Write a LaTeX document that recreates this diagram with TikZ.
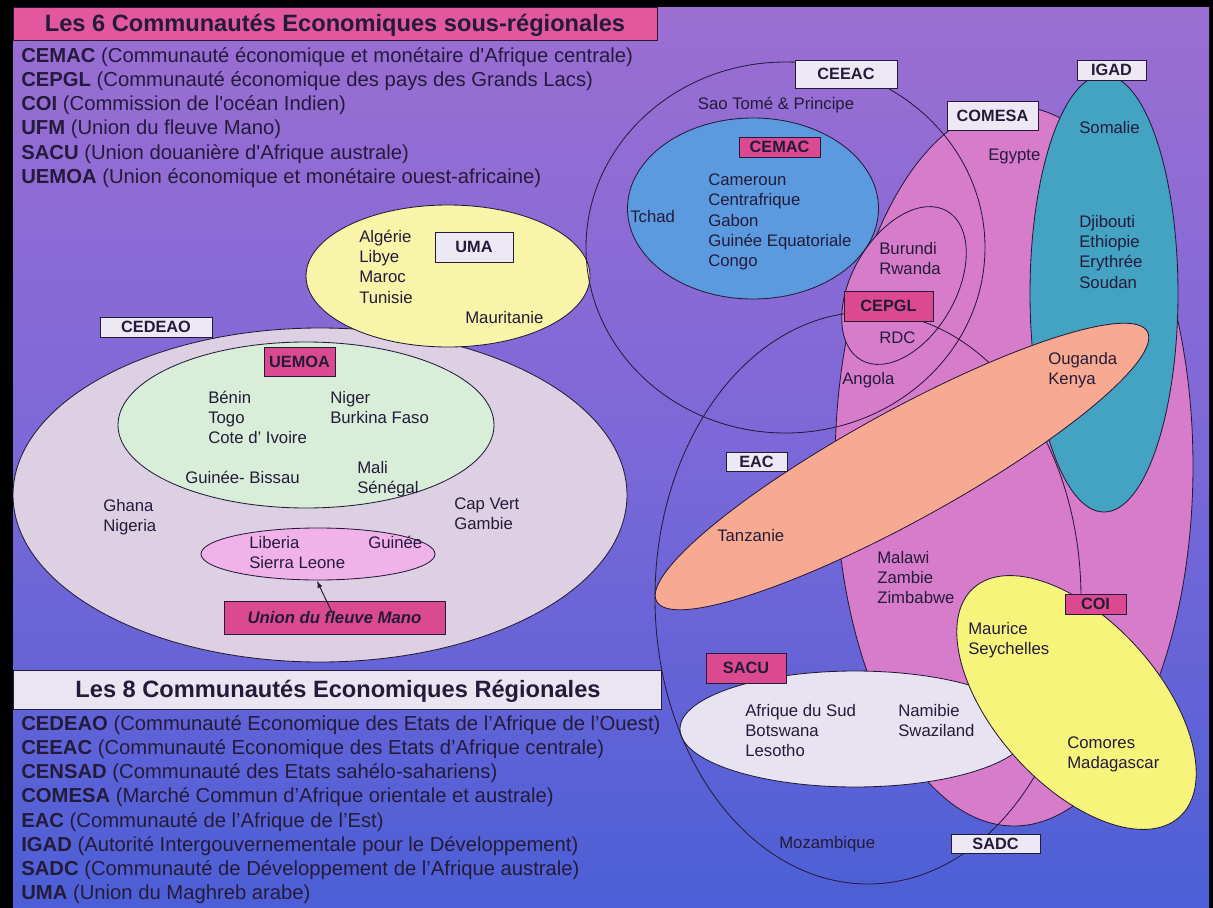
\documentclass[tikz,border=0pt]{standalone}
\usepackage{fontspec}
\setmainfont{Liberation Sans}
\usetikzlibrary{arrows}
\definecolor{ink}{HTML}{241B3A}
\definecolor{bgtop}{HTML}{9C6ED2}
\definecolor{bgmid}{HTML}{7B68D8}
\definecolor{bgbot}{HTML}{4C5FD6}
\definecolor{barpink}{HTML}{E2579E}
\definecolor{barwhite}{HTML}{EAE6F1}
\definecolor{tagpink}{HTML}{DB4A90}
\definecolor{tagwhite}{HTML}{ECE8F4}
\definecolor{cedeaofill}{HTML}{DCD0E2}
\definecolor{uemoafill}{HTML}{D8EED8}
\definecolor{ufmfill}{HTML}{F1B2EA}
\definecolor{umafill}{HTML}{F8F4A8}
\definecolor{cemacfill}{HTML}{5C9AE0}
\definecolor{comesafill}{HTML}{D77CCB}
\definecolor{igadfill}{HTML}{44A2C2}
\definecolor{eacfill}{HTML}{F8A991}
\definecolor{sacufill}{HTML}{E7E3F1}
\definecolor{coifill}{HTML}{F6F47A}
\tikzstyle{groupline} = [draw=ink, line width=0.6pt]
\tikzstyle{cname} = [anchor=base west, align=left, inner sep=0pt, text=ink, font=\fontsize{11.9}{14.4}\selectfont]
\tikzstyle{tagbox} = [draw=ink, line width=0.6pt, fill=tagwhite, text=ink, inner sep=0pt, font=\bfseries\fontsize{11.6}{13}\selectfont]
\tikzstyle{pinkbox} = [tagbox, fill=tagpink]
\tikzstyle{listtext} = [anchor=base west, align=left, inner sep=0pt, text=ink, font=\fontsize{14.4}{17.2}\selectfont]
\tikzstyle{headtext} = [anchor=base, inner sep=0pt, text=ink, font=\bfseries\fontsize{16.8}{19}\selectfont]
\tikzstyle{connector} = [draw=ink, line width=0.7pt, -latex]

\begin{document}
\begin{tikzpicture}[x=0.025cm, y=-0.025cm]
    \useasboundingbox (0,0) rectangle (1213,908);
    % frame and background
    \fill[black] (0,0) rectangle (1213,908);
    \shade[top color=bgtop, bottom color=bgbot, middle color=bgmid] (13,7) rectangle (1209,908);

    % the two headings and their lists (multi-line nodes sit on their last line)
    \draw[groupline, fill=barpink] (13,7) rectangle (657,40);
    \node[headtext] (head6) at (335,31) {Les 6 Communautés Economiques sous-régionales};
    \node[listtext] (list6) at (21,183.2) {\textbf{CEMAC} (Communauté économique et monétaire d\textquotesingle Afrique centrale)\\
        \textbf{CEPGL} (Communauté économique des pays des Grands Lacs)\\
        \textbf{COI} (Commission de l\textquotesingle océan Indien)\\
        \textbf{UFM} (Union du fleuve Mano)\\
        \textbf{SACU} (Union douanière d\textquotesingle Afrique australe)\\
        \textbf{UEMOA} (Union économique et monétaire ouest-africaine)};
    \draw[groupline, fill=barwhite] (13,670) rectangle (661,709);
    \node[headtext] (head8) at (338,697) {Les 8 Communautés Economiques Régionales};
    \node[listtext] (list8) at (21,899.6) {\textbf{CEDEAO} (Communauté Economique des Etats de l’Afrique de l’Ouest)\\
        \textbf{CEEAC} (Communauté Economique des Etats d’Afrique centrale)\\
        \textbf{CENSAD} (Communauté des Etats sahélo-sahariens)\\
        \textbf{COMESA} (Marché Commun d’Afrique orientale et australe)\\
        \textbf{EAC} (Communauté de l’Afrique de l’Est)\\
        \textbf{IGAD} (Autorité Intergouvernementale pour le Développement)\\
        \textbf{SADC} (Communauté de Développement de l’Afrique australe)\\
        \textbf{UMA} (Union du Maghreb arabe)};

    % west
    \draw[groupline, fill=cedeaofill] (320,495) ellipse [x radius=307, y radius=167];
    \draw[groupline, fill=uemoafill] (306,425) ellipse [x radius=188, y radius=83];
    \draw[groupline, fill=ufmfill] (318,554) ellipse [x radius=117, y radius=26];
    \draw[groupline, fill=umafill] (448,276) ellipse [x radius=142, y radius=71];

    % east
    \draw[groupline, fill=comesafill] (1014,466) ellipse [x radius=179, y radius=360];
    \fill[comesafill, rotate around={60:(904,285.5)}] (904,285.5) ellipse [x radius=86, y radius=52];
    \draw[groupline, fill=igadfill] (1104,293.5) ellipse [x radius=74, y radius=218.5];
    \draw[groupline, fill=cemacfill] (753,208.5) ellipse [x radius=125.5, y radius=90.5];
    \draw[groupline, fill=sacufill] (855,729) ellipse [x radius=175, y radius=58];
    \draw[groupline] (868,598) ellipse [x radius=213, y radius=286];
    \draw[groupline] (785.5,247.5) ellipse [x radius=199.5, y radius=185.5];
    \draw[groupline, rotate around={60:(904,285.5)}] (904,285.5) ellipse [x radius=86, y radius=52];
    \draw[groupline, fill=eacfill, rotate around={28.8:(902,466.5)}] (902,466.5) ellipse [x radius=280, y radius=55];
    \draw[groupline, fill=coifill, rotate around={-48:(1076.5,702.5)}] (1076.5,702.5) ellipse [x radius=154, y radius=82];

    % labels
    \node[tagbox, minimum width=2.8cm, minimum height=0.5cm] (cedeao) at (156,327) {CEDEAO};
    \node[pinkbox, minimum width=1.775cm, minimum height=0.725cm] (uemoa) at (299.5,361.5) {UEMOA};
    \node[tagbox, minimum width=1.95cm, minimum height=0.75cm] (uma) at (474,247) {UMA};
    \node[pinkbox, minimum width=5.525cm, minimum height=0.825cm, font=\bfseries\itshape\fontsize{11.9}{14}\selectfont] (ufm) at (334.5,617.5) {Union du fleuve Mano};
    \node[tagbox, minimum width=2.55cm, minimum height=0.7cm] (ceeac) at (846,74) {CEEAC};
    \node[pinkbox, minimum width=2.025cm, minimum height=0.5cm] (cemac) at (779.5,147) {CEMAC};
    \node[tagbox, minimum width=2.275cm, minimum height=0.725cm] (comesa) at (992.5,115.5) {COMESA};
    \node[tagbox, minimum width=1.725cm, minimum height=0.5cm] (igad) at (1111.5,70) {IGAD};
    \node[pinkbox, minimum width=2.225cm, minimum height=0.75cm] (cepgl) at (888.5,306) {CEPGL};
    \node[tagbox, minimum width=1.525cm, minimum height=0.475cm] (eac) at (756.5,461.5) {EAC};
    \node[pinkbox, minimum width=2cm, minimum height=0.75cm] (sacu) at (746,668) {SACU};
    \node[pinkbox, minimum width=1.525cm, minimum height=0.5cm] (coi) at (1095.5,604) {COI};
    \node[tagbox, minimum width=2.225cm, minimum height=0.475cm] (sadc) at (995.5,843.5) {SADC};

    \coordinate (ufmtip) at (317,581);
    \draw[connector, shorten <=1.2mm] (ufm.center) -- (ufmtip);

    % countries
    \node[cname] (benin) at (208,443.9) {Bénin\\Togo\\Cote d’ Ivoire};
    \node[cname] (niger) at (330,423.6) {Niger\\Burkina Faso};
    \node[cname] (bissau) at (185,483.3) {Guinée- Bissau};
    \node[cname] (mali) at (357,493.6) {Mali\\Sénégal};
    \node[cname] (ghana) at (103,531.6) {Ghana\\Nigeria};
    \node[cname] (capvert) at (454,529.6) {Cap Vert\\Gambie};
    \node[cname] (liberia) at (249,568.6) {Liberia\\Sierra Leone};
    \node[cname] (guinee) at (368,548.3) {Guinée};
    \node[cname] (algerie) at (359,303.2) {Algérie\\Libye\\Maroc\\Tunisie};
    \node[cname] (mauritanie) at (465,323.3) {Mauritanie};
    \node[cname, anchor=base] (saotome) at (776,109.3) {Sao Tomé \& Principe};
    \node[cname] (tchad) at (630,222.3) {Tchad};
    \node[cname] (cameroun) at (708,266.5) {Cameroun\\Centrafrique\\Gabon\\Guinée Equatoriale\\Congo};
    \node[cname] (egypte) at (988,160.3) {Egypte};
    \node[cname] (somalie) at (1079,133.3) {Somalie};
    \node[cname] (djibouti) at (1079,288.2) {Djibouti\\Ethiopie\\Erythrée\\Soudan};
    \node[cname] (burundi) at (879,274.6) {Burundi\\Rwanda};
    \node[cname] (rdc) at (879,343.3) {RDC};
    \node[cname] (angola) at (842,384.3) {Angola};
    \node[cname] (ouganda) at (1048,384.6) {Ouganda\\Kenya};
    \node[cname] (tanzanie) at (717,541.3) {Tanzanie};
    \node[cname] (malawi) at (877,603.9) {Malawi\\Zambie\\Zimbabwe};
    \node[cname] (maurice) at (968,654.6) {Maurice\\Seychelles};
    \node[cname] (comores) at (1067,768.6) {Comores\\Madagascar};
    \node[cname] (afrique) at (745,756.9) {Afrique du Sud\\Botswana\\Lesotho};
    \node[cname] (namibie) at (898,736.6) {Namibie\\Swaziland};
    \node[cname] (mozambique) at (779,848.3) {Mozambique};
\end{tikzpicture}
\end{document}
